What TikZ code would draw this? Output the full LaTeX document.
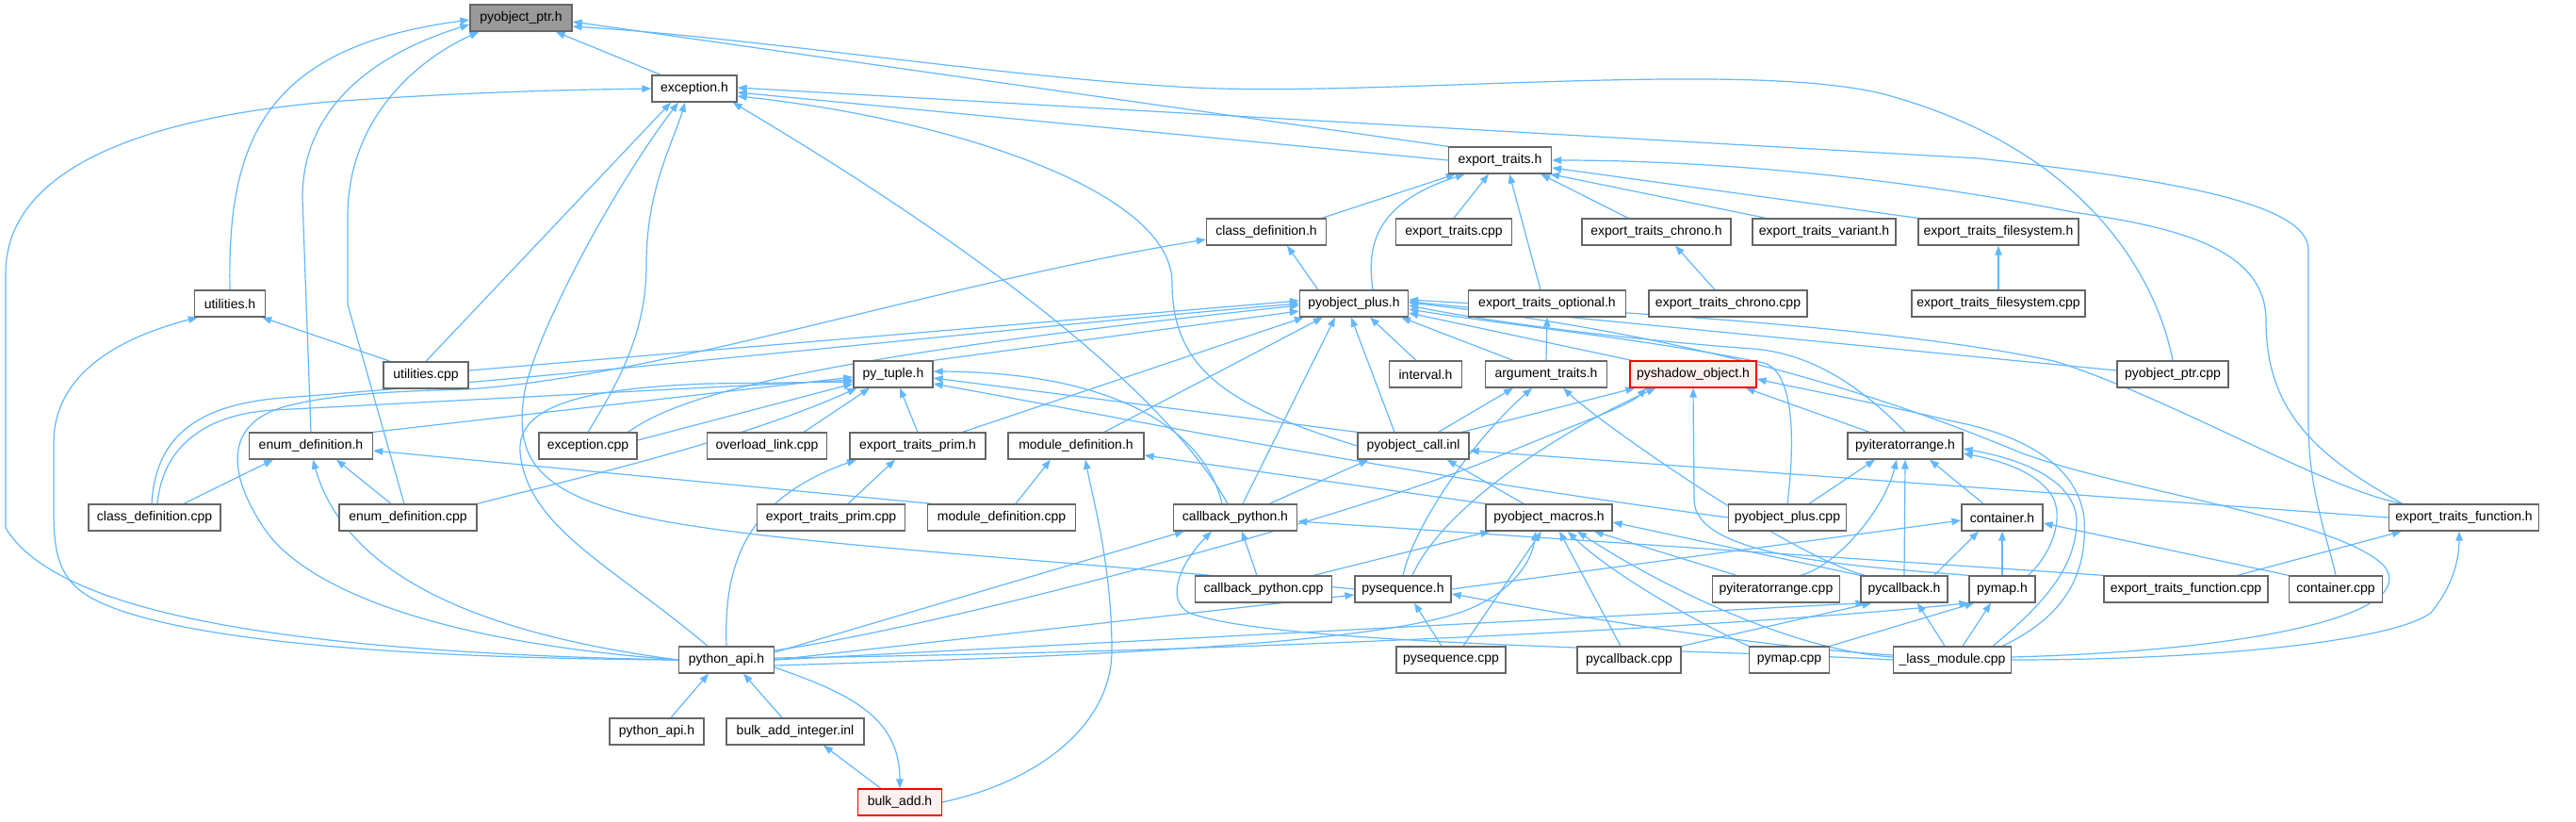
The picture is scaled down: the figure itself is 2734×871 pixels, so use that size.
\documentclass[tikz,border=0pt]{standalone}
\usepackage{fontspec}
\setmainfont{Liberation Sans}
\usetikzlibrary{arrows.meta}
\pgfdeclarelayer{bgl}
\pgfsetlayers{bgl,main}
\definecolor{edgec}{HTML}{63B8FF}
\definecolor{nodeb}{HTML}{666666}
\definecolor{rootf}{HTML}{999999}
\definecolor{redf}{HTML}{FFF0F0}
\begin{document}
\begin{tikzpicture}[x=1pt,y=-1pt,
  nd/.style={draw=nodeb, line width=1.3pt, fill=white, minimum height=28pt, inner sep=0pt, font=\fontsize{14}{16}\selectfont},
  rd/.style={nd, draw=red, line width=1.1pt, fill=redf},
  rt/.style={nd, fill=rootf},
  lnk/.style={draw=edgec, line width=1.2pt, -{Triangle[length=10pt,width=7.5pt]}}]
\useasboundingbox (0,0) rectangle (2734,871);
% ---------------- nodes ----------------
\node[rt, minimum width=108pt] (ptr) at (553,19) {pyobject\_ptr.h};
\node[nd, minimum width=90pt] (exc) at (737,94) {exception.h};
\node[nd, minimum width=109pt] (et) at (1592,170) {export\_traits.h};
\node[nd, minimum width=127pt] (cdh) at (1344,246) {class\_definition.h};
\node[nd, minimum width=123pt] (etcpp) at (1543,246) {export\_traits.cpp};
\node[nd, minimum width=158pt] (etchr) at (1758,246) {export\_traits\_chrono.h};
\node[nd, minimum width=152pt] (etvar) at (1936,246) {export\_traits\_variant.h};
\node[nd, minimum width=170pt] (etfs) at (2121,246) {export\_traits\_filesystem.h};
\node[nd, minimum width=75pt] (uth) at (244,322) {utilities.h};
\node[nd, minimum width=115pt] (pph) at (1437,322) {pyobject\_plus.h};
\node[nd, minimum width=167pt] (etopt) at (1642,322) {export\_traits\_optional.h};
\node[nd, minimum width=168pt] (etchrcpp) at (1834,322) {export\_traits\_chrono.cpp};
\node[nd, minimum width=184pt] (etfscpp) at (2121,322) {export\_traits\_filesystem.cpp};
\node[nd, minimum width=90pt] (utcpp) at (452,398) {utilities.cpp};
\node[nd, minimum width=84pt] (tup) at (948,397) {py\_tuple.h};
\node[nd, minimum width=77pt] (intv) at (1513,397) {interval.h};
\node[nd, minimum width=129pt] (argt) at (1641,397) {argument\_traits.h};
\node[rd, minimum width=134pt] (shadow) at (1797,397) {pyshadow\_object.h};
\node[nd, minimum width=118pt] (pptrcpp) at (2306,397) {pyobject\_ptr.cpp};
\node[nd, minimum width=131pt] (edh) at (330,473) {enum\_definition.h};
\node[nd, minimum width=104pt] (exccpp) at (624,473) {exception.cpp};
\node[nd, minimum width=127pt] (ovl) at (814,473) {overload\_link.cpp};
\node[nd, minimum width=144pt] (etprim) at (974,473) {export\_traits\_prim.h};
\node[nd, minimum width=144pt] (mdh) at (1142,473) {module\_definition.h};
\node[nd, minimum width=118pt] (call) at (1500,473) {pyobject\_call.inl};
\node[nd, minimum width=122pt] (iterh) at (2022,473) {pyiteratorrange.h};
\node[nd, minimum width=140pt] (cdcpp) at (164,549) {class\_definition.cpp};
\node[nd, minimum width=146pt] (edcpp) at (433,549) {enum\_definition.cpp};
\node[nd, minimum width=157pt] (etprimcpp) at (882,549) {export\_traits\_prim.cpp};
\node[nd, minimum width=157pt] (mdcpp) at (1063,549) {module\_definition.cpp};
\node[nd, minimum width=131pt] (cbh) at (1311,549) {callback\_python.h};
\node[nd, minimum width=134pt] (macros) at (1644,549) {pyobject\_macros.h};
\node[nd, minimum width=125pt] (ppcpp) at (1897,549) {pyobject\_plus.cpp};
\node[nd, minimum width=86pt] (conth) at (2125,549) {container.h};
\node[nd, minimum width=159pt] (etfunc) at (2615,549) {export\_traits\_function.h};
\node[nd, minimum width=145pt] (cbcpp) at (1341,625) {callback\_python.cpp};
\node[nd, minimum width=102pt] (seqh) at (1489,625) {pysequence.h};
\node[nd, minimum width=135pt] (itercpp) at (1885,625) {pyiteratorrange.cpp};
\node[nd, minimum width=92pt] (cbkh) at (2021,625) {pycallback.h};
\node[nd, minimum width=70pt] (maph) at (2125,625) {pymap.h};
\node[nd, minimum width=174pt] (etfunccpp) at (2320,625) {export\_traits\_function.cpp};
\node[nd, minimum width=99pt] (contcpp) at (2479,625) {container.cpp};
\node[nd, minimum width=101pt] (api) at (771,700) {python\_api.h};
\node[nd, minimum width=116pt] (seqcpp) at (1540,700) {pysequence.cpp};
\node[nd, minimum width=110pt] (cbkcpp) at (1729,700) {pycallback.cpp};
\node[nd, minimum width=85pt] (mapcpp) at (1899,700) {pymap.cpp};
\node[nd, minimum width=125pt] (lass) at (2072,700) {\_lass\_module.cpp};
\node[nd, minimum width=100pt] (api2) at (697,776) {python\_api.h};
\node[nd, minimum width=146pt] (bai) at (844,776) {bulk\_add\_integer.inl};
\node[rd, minimum width=89pt] (bulk) at (955,851) {bulk\_add.h};
% ---------------- edges ----------------
\begin{pgfonlayer}{bgl}
\fill[white] (0,0) rectangle (2734,871);
% into pyobject_ptr.h
\draw[lnk] (exc) -- ([xshift=-18pt]ptr.south east);
\draw[lnk] (et.north west) -- ([yshift=-4pt]ptr.east);
\draw[lnk] (pptrcpp.north) .. controls (2290,300) and (2220,160) .. (2000,100) .. controls (1850,62) and (1450,105) .. (1250,92) .. controls (1050,80) and (800,40) .. ([yshift=-9pt]ptr.east);
\draw[lnk] (uth.north) .. controls (241,150) and (280,50) .. ([yshift=-2pt]ptr.west);
\draw[lnk] (edh.north) -- (321,210) .. controls (321,100) and (420,50) .. ([yshift=-7pt]ptr.west);
\draw[lnk] ([xshift=-4pt]edcpp.north) -- (369,323) -- (369,230) .. controls (369,120) and (450,60) .. ([xshift=10pt]ptr.south west);
% into exception.h
\draw[lnk] (api.west) .. controls (300,692) and (60,650) .. (6,560) -- (6,290) .. controls (6,180) and (150,125) .. (350,108) .. controls (500,97) and (620,95) .. (exc.west);
\draw[lnk] (utcpp.north) -- ([xshift=-25pt]exc.south);
\draw[lnk] (seqh.west) .. controls (1150,595) and (850,580) .. (700,552) .. controls (560,525) and (548,480) .. (556,420) .. controls (565,360) and (650,200) .. ([xshift=-17pt]exc.south);
\draw[lnk] (exccpp.north) .. controls (660,400) and (686,350) .. (686,280) .. controls (686,200) and (715,150) .. ([xshift=-10pt]exc.south);
\draw[lnk] ([xshift=-8pt]cbh.north) .. controls (1250,440) and (1100,300) .. ([xshift=-5pt]exc.south east);
\draw[lnk] (et.west) -- ([yshift=-4pt]exc.east);
\draw[lnk] (contcpp.north) .. controls (2470,570) and (2450,520) .. (2450,450) -- (2450,265) .. controls (2450,215) and (2300,190) .. (2100,168) -- ([yshift=1pt]exc.east);
\draw[lnk] (call.west) .. controls (1300,430) and (1244,390) .. (1244,300) .. controls (1244,200) and (1000,125) .. ([yshift=-8pt]exc.east);
% into export_traits.h
\draw[lnk] ([xshift=-5pt]cdh.north east) -- ([xshift=8pt]et.south west);
\draw[lnk] ([xshift=20pt]pph.north) .. controls (1450,260) and (1460,215) .. ([xshift=18pt]et.south west);
\draw[lnk] (etcpp.north) -- ([xshift=-12pt]et.south);
\draw[lnk] ([xshift=-7pt]etopt.north) -- ([xshift=10pt]et.south);
\draw[lnk] ([xshift=-30pt]etchr.north) -- ([xshift=-12pt]et.south east);
\draw[lnk] ([xshift=15pt]etfunc.north west) .. controls (2450,480) and (2405,430) .. (2405,340) .. controls (2405,260) and (2300,240) .. (2200,225) .. controls (2000,185) and (1800,170) .. (et.east);
\draw[lnk] (etfs.north west) -- ([yshift=-8pt]et.east);
\draw[lnk] ([xshift=15pt]etvar.north west) -- ([xshift=-2pt]et.south east);
% into class_definition.h
\draw[lnk] ([xshift=20pt]pph.north west) -- ([xshift=22pt]cdh.south);
\draw[lnk] (api.west) .. controls (450,680) and (320,620) .. (280,560) .. controls (240,500) and (240,450) .. (300,432) .. controls (350,418) and (420,415) .. (494,413) .. controls (700,400) and (1000,300) .. ([yshift=-8pt]cdh.west);
% chrono/filesystem
\draw[lnk] ([xshift=-14pt]etchrcpp.north) -- ([xshift=20pt]etchr.south);
\draw[lnk] (etfscpp) -- (etfs);
% into utilities.h
\draw[lnk] (api.west) .. controls (350,698) and (150,670) .. (90,630) .. controls (60,610) and (57,580) .. (57,540) -- (57,470) .. controls (57,400) and (120,360) .. ([xshift=4pt]uth.south west);
\draw[lnk] ([xshift=8pt]utcpp.north west) -- ([xshift=-4pt]uth.south east);
% into pyobject_plus.h
\draw[lnk] ([yshift=5pt]utcpp.east) -- ([yshift=3pt]pph.west);
\draw[lnk] ([xshift=-10pt]exccpp.north east) .. controls (720,420) and (850,380) .. ([yshift=-2pt]pph.west);
\draw[lnk] ([xshift=-3pt]cdcpp.north) .. controls (165,470) and (200,430) .. (300,422) .. controls (600,400) and (1100,345) .. (pph.west);
\draw[lnk] (tup.north east) -- ([yshift=-8pt]pph.west);
\draw[lnk] ([xshift=-25pt]etprim.north east) -- ([xshift=5pt]pph.south west);
\draw[lnk] ([xshift=30pt]mdh.north) -- ([xshift=25pt]pph.south west);
\draw[lnk] ([xshift=8pt]cbh.north) -- ([xshift=-20pt]pph.south);
\draw[lnk] ([xshift=-20pt]call.north) -- ([xshift=-3pt]pph.south);
\draw[lnk] ([xshift=-10pt]intv.north) -- ([xshift=17pt]pph.south);
\draw[lnk] ([xshift=-35pt]argt.north) -- ([xshift=-8pt]pph.south east);
\draw[lnk] ([xshift=3pt]shadow.north west) -- ([yshift=-10pt]pph.east);
\draw[lnk] ([yshift=4pt]pptrcpp.west) -- ([yshift=2pt]pph.east);
\draw[lnk] ([xshift=15pt]etfunc.north west) .. controls (2470,520) and (2300,420) .. (2180,383) .. controls (2000,345) and (1700,330) .. ([yshift=4pt]pph.east);
\draw[lnk] (iterh.north) .. controls (1985,420) and (1930,375) .. (1860,370) .. controls (1750,362) and (1600,345) .. ([yshift=-2pt]pph.east);
\draw[lnk] (ppcpp.north) .. controls (1905,470) and (1905,395) .. (1872,385) .. controls (1750,360) and (1600,345) .. ([yshift=-6pt]pph.east);
\draw[lnk] ([yshift=3pt]lass.east) .. controls (2400,690) and (2570,650) .. (2530,600) .. controls (2480,550) and (2250,520) .. (2144,480) .. controls (2000,420) and (1800,355) .. ([yshift=1pt]pph.east);
\draw[lnk] (argt.north) -- (etopt.south);
% into py_tuple.h
\draw[lnk] (edh.north east) -- ([yshift=-3pt]tup.west);
\draw[lnk] ([yshift=6pt]exccpp.east) -- ([yshift=-10pt]tup.west);
\draw[lnk] (edcpp.north east) .. controls (600,510) and (780,470) .. ([xshift=4pt]tup.south west);
\draw[lnk] ([xshift=3pt]cdcpp.north) .. controls (172,480) and (210,440) .. (290,435) -- ([yshift=-6pt]tup.west);
\draw[lnk] ([xshift=-20pt]api.north) .. controls (650,600) and (560,560) .. (552,480) .. controls (548,430) and (620,412) .. (750,407) -- ([yshift=-8pt]tup.west);
\draw[lnk] ([xshift=-25pt]ovl.north east) -- ([xshift=-25pt]tup.south);
\draw[lnk] (etprim.north) -- ([xshift=7pt]tup.south);
\draw[lnk] (call.north west) -- ([yshift=-4pt]tup.east);
\draw[lnk] ([xshift=-14pt]cbh.north) .. controls (1280,460) and (1190,395) .. ([yshift=3pt]tup.east);
\draw[lnk] (ppcpp.west) .. controls (1450,497) and (1200,445) .. ([yshift=-10pt]tup.east);
% into enum_definition.h
\draw[lnk] ([xshift=31pt]cdcpp.north) -- ([xshift=-40pt]edh.south);
\draw[lnk] (api.west) .. controls (530,675) and (370,620) .. ([xshift=2pt]edh.south);
\draw[lnk] ([xshift=-18pt]edcpp.north) -- ([xshift=27pt]edh.south);
\draw[lnk] ([xshift=5pt]mdcpp.north west) -- ([yshift=-5pt]edh.east);
% into export_traits_prim.h
\draw[lnk] ([xshift=18pt]etprimcpp.north) -- ([xshift=-24pt]etprim.south);
\draw[lnk] (api.north) .. controls (768,600) and (790,530) .. ([xshift=-65pt]etprim.south);
% into module_definition.h
\draw[lnk] ([xshift=15pt]mdcpp.north) -- ([xshift=-27pt]mdh.south);
\draw[lnk] (bulk.east) .. controls (1100,830) and (1180,770) .. (1180,690) .. controls (1180,600) and (1160,530) .. ([xshift=10pt]mdh.south);
\draw[lnk] (macros.north west) -- ([yshift=-10pt]mdh.east);
% into argument_traits.h
\draw[lnk] ([xshift=-33pt]call.north east) -- ([xshift=-35pt]argt.south);
\draw[lnk] (seqh.north) .. controls (1500,560) and (1560,470) .. ([xshift=-15pt]argt.south);
\draw[lnk] ([xshift=5pt]cbkh.north west) .. controls (1900,590) and (1700,450) .. ([xshift=18pt]argt.south);
% into pyshadow_object.h
\draw[lnk] ([xshift=-8pt]call.north east) -- ([xshift=6pt]shadow.south west);
\draw[lnk] ([yshift=10pt]api.east) .. controls (1000,665) and (1450,545) .. (1600,480) .. controls (1680,447) and (1730,430) .. ([xshift=18pt]shadow.south west);
\draw[lnk] ([xshift=10pt]seqh.north) .. controls (1530,540) and (1650,460) .. ([xshift=28pt]shadow.south west);
\draw[lnk] ([xshift=-38pt]iterh.north) -- ([xshift=-12pt]shadow.south east);
\draw[lnk] (maph.north west) .. controls (1960,600) and (1798,590) .. (1798,530) -- (shadow.south);
\draw[lnk] ([xshift=-10pt]lass.north east) .. controls (2200,650) and (2215,600) .. (2212,550) .. controls (2205,490) and (2140,460) .. (2073,447) .. controls (1980,425) and (1900,410) .. ([yshift=-5pt]shadow.east);
% into pyobject_call.inl
\draw[lnk] ([xshift=-30pt]cbh.north east) -- ([xshift=12pt]call.south west);
\draw[lnk] ([xshift=-27pt]macros.north) -- ([xshift=-24pt]call.south east);
\draw[lnk] (etfunc.west) -- ([yshift=-5pt]call.east);
% into callback_python.h
\draw[lnk] ([yshift=8pt]api.east) -- ([xshift=12pt]cbh.south west);
\draw[lnk] (lass.west) .. controls (1800,688) and (1350,685) .. (1262,650) .. controls (1235,635) and (1255,595) .. ([xshift=-25pt]cbh.south);
\draw[lnk] ([xshift=-7pt]cbcpp.north) -- ([xshift=7pt]cbh.south);
\draw[lnk] (etfunccpp.north west) -- ([yshift=-4pt]cbh.east);
% into pyobject_macros.h
\draw[lnk] ([xshift=-20pt]cbcpp.north east) -- ([xshift=5pt]macros.south west);
\draw[lnk] ([yshift=-6pt]api.east) .. controls (1000,700) and (1450,690) .. (1557,647) .. controls (1600,630) and (1625,600) .. ([xshift=-14pt]macros.south);
\draw[lnk] ([xshift=13pt]seqcpp.north) -- ([xshift=-8pt]macros.south);
\draw[lnk] ([xshift=-9pt]cbkcpp.north) -- ([xshift=11pt]macros.south);
\draw[lnk] (mapcpp.north west) .. controls (1780,650) and (1700,600) .. ([xshift=20pt]macros.south);
\draw[lnk] ([yshift=3pt]lass.west) .. controls (1900,690) and (1760,620) .. ([xshift=30pt]macros.south);
\draw[lnk] ([xshift=-42pt]itercpp.north) -- ([xshift=-20pt]macros.south east);
\draw[lnk] (cbkh.north west) -- ([yshift=-5pt]macros.east);
% into pyiteratorrange.h
\draw[lnk] ([xshift=23pt]ppcpp.north) -- ([xshift=-32pt]iterh.south);
\draw[lnk] ([xshift=26pt]itercpp.north) .. controls (1950,600) and (2000,540) .. ([xshift=-9pt]iterh.south);
\draw[lnk] (cbkh.north) -- (iterh.south);
\draw[lnk] ([xshift=-20pt]conth.north) -- ([xshift=26pt]iterh.south);
\draw[lnk] ([xshift=-8pt]maph.north east) .. controls (2175,590) and (2190,555) .. (2180,530) .. controls (2165,500) and (2120,488) .. ([yshift=-8pt]iterh.east);
\draw[lnk] ([xshift=-20pt]lass.north east) .. controls (2170,640) and (2205,600) .. (2204,550) .. controls (2200,510) and (2150,488) .. ([yshift=-3pt]iterh.east);
% into container.h
\draw[lnk] (seqh.east) -- ([yshift=-3pt]conth.west);
\draw[lnk] ([xshift=-15pt]cbkh.north east) -- ([xshift=-25pt]conth.south);
\draw[lnk] (maph.north) -- (conth.south);
\draw[lnk] (contcpp.north west) -- ([yshift=-6pt]conth.east);
% into export_traits_function.h
\draw[lnk] ([xshift=-33pt]etfunccpp.north east) -- ([xshift=14pt]etfunc.south west);
\draw[lnk] (lass.east) .. controls (2350,700) and (2540,680) .. (2580,650) .. controls (2605,620) and (2610,590) .. ([xshift=-5pt]etfunc.south);
% into pysequence.h
\draw[lnk] (api.east) -- ([yshift=-6pt]seqh.west);
\draw[lnk] ([xshift=-10pt]seqcpp.north) -- ([xshift=12pt]seqh.south);
\draw[lnk] ([yshift=5pt]lass.west) .. controls (1850,685) and (1650,650) .. ([yshift=-5pt]seqh.east);
% into pycallback.h
\draw[lnk] (api.east) -- ([xshift=5pt]cbkh.south west);
\draw[lnk] (cbkcpp.north east) -- ([xshift=12pt]cbkh.south west);
\draw[lnk] ([xshift=-8pt]lass.north) -- ([xshift=14pt]cbkh.south);
% into pymap.h
\draw[lnk] ([yshift=2pt]api.east) .. controls (1400,690) and (1900,660) .. (maph.south west);
\draw[lnk] (mapcpp.north east) -- ([xshift=6pt]maph.south west);
\draw[lnk] ([xshift=11pt]lass.north) -- ([xshift=-12pt]maph.south);
% python_api.h / bulk_add
\draw[lnk] ([xshift=15pt]api2.north) -- ([xshift=-19pt]api.south);
\draw[lnk] ([xshift=-14pt]bai.north) -- ([xshift=18pt]api.south);
\draw[lnk] ([yshift=-8pt]api.east) .. controls (900,735) and (955,760) .. (bulk.north);
\draw[lnk] ([xshift=25pt]bulk.north west) -- ([xshift=30pt]bai.south);
\end{pgfonlayer}
\end{tikzpicture}
\end{document}
